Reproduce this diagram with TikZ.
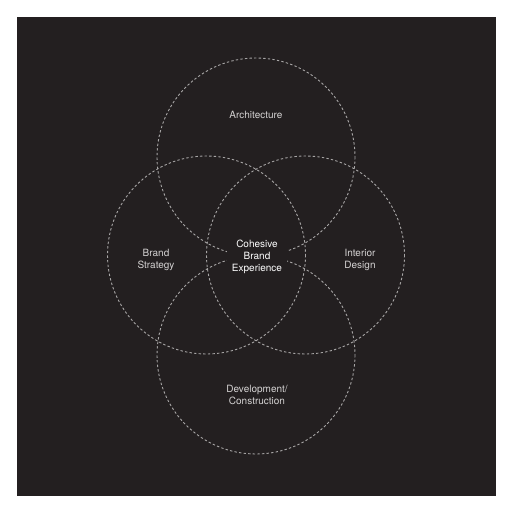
\documentclass[tikz,border=0pt]{standalone}
\usepackage{fontspec}
\setmainfont{TeX Gyre Heros}
\begin{document}
\begin{tikzpicture}[x=1pt,y=-1pt,
  ring/.style={draw=ringgray, line width=0.9pt, dash pattern=on 2.4pt off 2.2pt},
  lbl/.style={text=labelgray, align=center, font=\fontsize{10}{12}\selectfont, inner sep=0pt},
  ctr/.style={text=white, fill=bg, align=center, font=\fontsize{10}{12}\selectfont, inner xsep=5pt, inner ysep=4pt}]
\definecolor{bg}{HTML}{231F20}
\definecolor{ringgray}{HTML}{A8A6A6}
\definecolor{labelgray}{HTML}{D4D2D2}
\useasboundingbox (0,0) rectangle (512,512);
\fill[white] (0,0) rectangle (512,512);
\fill[bg] (16.5,16.5) rectangle (495.5,495.5);
\coordinate (cA) at (256,157);
\coordinate (cB) at (206.5,255);
\coordinate (cI) at (305.5,255);
\coordinate (cD) at (256,355);
\draw[ring] (cA) circle (99);
\draw[ring] (cB) circle (99);
\draw[ring] (cI) circle (99);
\draw[ring] (cD) circle (99);
\node[lbl] (arch) at (256,115) {Architecture};
\node[lbl] (brand) at (156,260) {Brand\\Strategy};
\node[lbl] (inter) at (360,260) {Interior\\Design};
\node[lbl] (dev) at (257,395) {Development/\\Construction};
\node[ctr] (core) at (257,257) {Cohesive\\Brand\\Experience};
\end{tikzpicture}
\end{document}
